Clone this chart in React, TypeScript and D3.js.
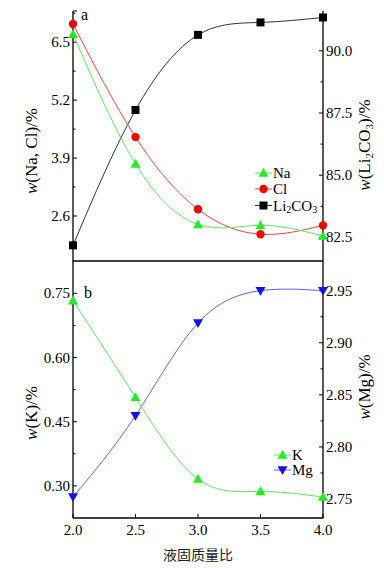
import React from "react";
import * as d3 from "d3";

const ratios = [2.0, 2.5, 3.0, 3.5, 4.0];
const naValues = [6.68, 3.77, 2.41, 2.39, 2.15];
const clValues = [6.91, 4.37, 2.75, 2.19, 2.39];
const li2co3Values = [82.18, 87.62, 90.64, 91.14, 91.34];
const kValues = [0.733, 0.507, 0.316, 0.287, 0.274];
const mgValues = [2.752, 2.83, 2.919, 2.95, 2.95];

const xTicks = [2.0, 2.5, 3.0, 3.5, 4.0];
const naClTicks = [2.6, 3.9, 5.2, 6.5];
const naClMinor = [1.95, 3.25, 4.55, 5.85, 7.15];
const liTicks = [82.5, 85.0, 87.5, 90.0];
const liMinor = [83.75, 86.25, 88.75, 91.25];
const kTicks = [0.3, 0.45, 0.6, 0.75];
const kMinor = [0.375, 0.525, 0.675];
const mgTicks = [2.75, 2.8, 2.85, 2.9, 2.95];
const mgMinor = [2.775, 2.825, 2.875, 2.925];

const W = 384, H = 568;
const xL = 73, xR = 323;
const aTop = 11, aBot = 261, bTop = 261, bBot = 518;
const GREEN = "#22ee22", RED = "#ff0000", BLUE = "#1010ff", BLACK = "#000";
const FONT = "Liberation Serif";

const x = d3.scaleLinear().domain([2, 4]).range([xL, xR]);
const yNaCl = d3.scaleLinear().domain([1.59, 7.2]).range([aBot, aTop]);
const yLi = d3.scaleLinear().domain([81.55, 91.6]).range([aBot, aTop]);
const yK = d3.scaleLinear().domain([0.225, 0.8255]).range([bBot, bTop]);
const yMg = d3.scaleLinear().domain([2.7318, 2.9785]).range([bBot, bTop]);

function path(vals: number[], y: d3.ScaleLinear<number, number>) {
  const gen = d3
    .line<number>()
    .x((_, i) => x(ratios[i]))
    .y((v) => y(v))
    .curve(d3.curveNatural);
  return gen(vals) || "";
}

type Shape = "tri" | "circle" | "square" | "tridown";

function Marker({ cx, cy, shape, color }: { cx: number; cy: number; shape: Shape; color: string }) {
  if (shape === "circle") return <circle cx={cx} cy={cy} r={4.2} fill={color} />;
  if (shape === "square") return <rect x={cx - 4} y={cy - 4} width={8} height={8} fill={color} />;
  if (shape === "tri")
    return <path d={`M${cx},${cy - 5} L${cx + 5},${cy + 3.8} L${cx - 5},${cy + 3.8} Z`} fill={color} />;
  return <path d={`M${cx},${cy + 5} L${cx + 5},${cy - 3.8} L${cx - 5},${cy - 3.8} Z`} fill={color} />;
}

function Series({ vals, y, color, lineColor, shape }: { vals: number[]; y: d3.ScaleLinear<number, number>; color: string; lineColor: string; shape: Shape }) {
  return (
    <g>
      <path d={path(vals, y)} fill="none" stroke={lineColor} strokeWidth={1} />
      {vals.map((v, i) => (
        <Marker key={i} cx={x(ratios[i])} cy={y(v)} shape={shape} color={color} />
      ))}
    </g>
  );
}

const textStyle = { fontFamily: "'Liberation Serif', 'Times New Roman', serif" };

function LeftAxis({ y, ticks, minor, fmt, top, bot }: any) {
  return (
    <g>
      <line x1={xL} x2={xL} y1={top} y2={bot} stroke={BLACK} strokeWidth={1.3} />
      {ticks.map((t: number) => (
        <g key={t}>
          <line x1={xL} x2={xL + 4} y1={y(t)} y2={y(t)} stroke={BLACK} strokeWidth={1} />
          <text x={xL - 3} y={y(t) + 5} textAnchor="end" style={textStyle} fontSize={15}>
            {fmt(t)}
          </text>
        </g>
      ))}
      {minor.map((t: number) => (
        <line key={"m" + t} x1={xL} x2={xL + 2.5} y1={y(t)} y2={y(t)} stroke={BLACK} strokeWidth={1} />
      ))}
    </g>
  );
}

function RightAxis({ y, ticks, minor, fmt, top, bot }: any) {
  return (
    <g>
      <line x1={xR} x2={xR} y1={top} y2={bot} stroke={BLACK} strokeWidth={1.3} />
      {ticks.map((t: number) => (
        <g key={t}>
          <line x1={xR - 4} x2={xR} y1={y(t)} y2={y(t)} stroke={BLACK} strokeWidth={1} />
          <text x={xR + 3} y={y(t) + 5} textAnchor="start" style={textStyle} fontSize={15}>
            {fmt(t)}
          </text>
        </g>
      ))}
      {minor.map((t: number) => (
        <line key={"m" + t} x1={xR - 2.5} x2={xR} y1={y(t)} y2={y(t)} stroke={BLACK} strokeWidth={1} />
      ))}
    </g>
  );
}

function VLabel({ cx, cy, children }: any) {
  return (
    <text transform={`translate(${cx},${cy}) rotate(-90)`} textAnchor="middle" style={textStyle} fontSize={17}>
      {children}
    </text>
  );
}

function LegendRow({ x0, yc, shape, color, lineColor, children }: any) {
  return (
    <g>
      <line x1={x0} x2={x0 + 17} y1={yc} y2={yc} stroke={lineColor} strokeWidth={1} />
      <Marker cx={x0 + 8.5} cy={yc} shape={shape} color={color} />
      <text x={x0 + 18} y={yc + 5} style={textStyle} fontSize={15}>
        {children}
      </text>
    </g>
  );
}

export default function App() {
  const f1 = d3.format(".1f");
  const f2 = d3.format(".2f");
  return (
    <svg width={W} height={H} style={{ position: "absolute", left: 0, top: 0, background: "#fff" }}>
      {/* panel a */}
      <line x1={xL} x2={xR} y1={aBot} y2={aBot} stroke={BLACK} strokeWidth={1.3} />
      <LeftAxis y={yNaCl} ticks={naClTicks} minor={naClMinor} fmt={f1} top={aTop} bot={aBot} />
      <line x1={xL} x2={xL + 4} y1={aTop} y2={aTop} stroke={BLACK} strokeWidth={1} />
      <RightAxis y={yLi} ticks={liTicks} minor={liMinor} fmt={f1} top={aTop} bot={aBot} />
      <Series vals={li2co3Values} y={yLi} color={BLACK} lineColor="#333" shape="square" />
      <Series vals={clValues} y={yNaCl} color={RED} lineColor="#ff4040" shape="circle" />
      <Series vals={naValues} y={yNaCl} color={GREEN} lineColor="#55ee55" shape="tri" />
      <text x={81} y={20} style={textStyle} fontSize={16}>a</text>
      <LegendRow x0={255} yc={173} shape="tri" color={GREEN} lineColor="#55ee55">Na</LegendRow>
      <LegendRow x0={255} yc={189} shape="circle" color={RED} lineColor="#ff4040">Cl</LegendRow>
      <LegendRow x0={255} yc={205.5} shape="square" color={BLACK} lineColor="#333">
        Li<tspan fontSize={10} dy={2}>2</tspan><tspan dy={-2}>CO</tspan><tspan fontSize={10} dy={2}>3</tspan>
      </LegendRow>
      <VLabel cx={37} cy={151}>
        <tspan fontStyle="italic">w</tspan>(Na, Cl)/%
      </VLabel>
      <VLabel cx={370} cy={145}>
        <tspan fontStyle="italic">w</tspan>(Li<tspan fontSize={11} dy={3}>2</tspan><tspan dy={-3}>CO</tspan><tspan fontSize={11} dy={3}>3</tspan><tspan dy={-3}>)/%</tspan>
      </VLabel>

      {/* panel b */}
      <LeftAxis y={yK} ticks={kTicks} minor={kMinor} fmt={f2} top={bTop} bot={bBot} />
      <RightAxis y={yMg} ticks={mgTicks} minor={mgMinor} fmt={f2} top={bTop} bot={bBot} />
      <line x1={xL} x2={xR} y1={bBot} y2={bBot} stroke={BLACK} strokeWidth={1.3} />
      {xTicks.map((t) => (
        <g key={t}>
          <line x1={x(t)} x2={x(t)} y1={bBot} y2={bBot - 4} stroke={BLACK} strokeWidth={1} />
          <text x={x(t)} y={535} textAnchor="middle" style={textStyle} fontSize={15}>
            {f1(t)}
          </text>
        </g>
      ))}
      <Series vals={mgValues} y={yMg} color={BLUE} lineColor="#6060ff" shape="tridown" />
      <Series vals={kValues} y={yK} color={GREEN} lineColor="#55ee55" shape="tri" />
      <text x={84} y={298} style={textStyle} fontSize={16}>b</text>
      <LegendRow x0={274} yc={455} shape="tri" color={GREEN} lineColor="#55ee55">K</LegendRow>
      <LegendRow x0={274} yc={470} shape="tridown" color={BLUE} lineColor="#6060ff">Mg</LegendRow>
      <VLabel cx={37} cy={413}>
        <tspan fontStyle="italic">w</tspan>(K)/%
      </VLabel>
      <VLabel cx={370} cy={387}>
        <tspan fontStyle="italic">w</tspan>(Mg)/%
      </VLabel>
      <text x={198} y={560} textAnchor="middle" style={{ fontFamily: "'Noto Sans CJK SC', sans-serif" }} fontSize={14} fill="#222">
        液固质量比
      </text>
    </svg>
  );
}
